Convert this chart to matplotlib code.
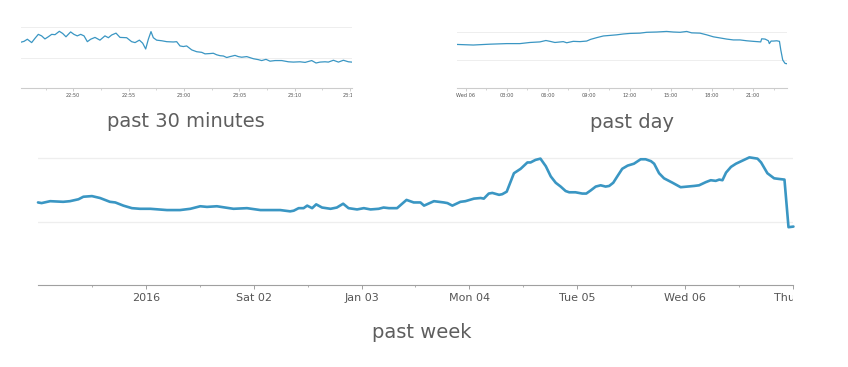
import matplotlib
matplotlib.use('Agg')
import matplotlib.pyplot as plt
from matplotlib.transforms import Bbox, TransformedBbox

# ---------------- data ----------------
# past 30 minutes: minutes after 22:45
min_t = [0.24, 0.55, 0.85, 1.24, 1.54, 1.84, 2.14, 2.44, 2.74, 3.05, 3.35, 3.74, 4.04, 4.34,
         4.76, 5.06, 5.36, 5.67, 5.97, 6.27, 6.57, 6.96, 7.41, 7.86, 8.17, 8.47, 8.86, 9.22,
         9.82, 10.27, 10.58, 10.97, 11.27, 11.54, 11.78, 12.02, 12.23, 12.53, 12.99, 13.44,
         14.04, 14.34, 14.64, 14.94, 15.24, 15.70, 16.15, 16.60, 16.90, 17.35, 17.65, 17.95,
         18.26, 18.56, 18.86, 19.16, 19.61, 19.91, 20.21, 20.67, 21.27, 21.72, 22.02, 22.41,
         22.77, 23.23, 23.83, 24.43, 24.88, 25.48, 25.94, 26.54, 26.93, 27.29, 27.74, 28.04,
         28.50, 28.95, 29.40, 29.85, 30.15]
min_v = [151, 154, 161, 150, 164, 177, 172, 162, 169, 177, 176, 187, 180, 169,
         185, 177, 172, 177, 172, 153, 161, 167, 158, 172, 166, 175, 181, 167,
         166, 153, 150, 158, 148, 129, 161, 186, 166, 158, 156, 153,
         152, 153, 139, 137, 139, 126, 120, 118, 113, 114, 115, 110,
         107, 106, 101, 104, 108, 104, 102, 104, 97, 94, 91, 95,
         89, 91, 91, 87, 86, 87, 85, 91, 83, 86, 87, 86,
         92, 86, 92, 87, 86]
min_ticks = [5, 10, 15, 20, 25, 30]
min_minor = [2.5, 7.5, 12.5, 17.5, 22.5, 27.5]
min_labels = ['22:50', '22:55', '23:00', '23:05', '23:10', '23:15']

# past day: hours after Wed 06 00:00
day_t = [-0.63, 0.54, 1.76, 2.98, 3.95, 4.68, 5.41, 5.85, 6.15, 6.51, 7.12, 7.37, 7.85,
         8.34, 8.83, 9.12, 9.56, 10.05, 10.54, 11.02, 11.51, 12.0, 12.73, 13.22, 13.95,
         14.68, 15.17, 15.66, 16.15, 16.51, 17.12, 17.61, 18.10, 18.59, 19.07, 19.56,
         20.05, 20.54, 21.02, 21.56, 21.63, 21.88, 22.12, 22.19, 22.32, 22.49, 22.73,
         22.93, 23.03, 23.17, 23.34, 23.46]
day_v = [155, 153, 156, 158, 158, 162, 164, 169, 166, 162, 165, 161, 166,
         165, 167, 173, 179, 185, 187, 189, 192, 194, 195, 198, 199,
         201, 199, 198, 201, 196, 195, 189, 182, 178, 174, 171,
         171, 168, 166, 164, 175, 174, 168, 158, 167, 167, 168,
         166, 135, 100, 88, 87]
day_ticks = [0, 3, 6, 9, 12, 15, 18, 21]
day_minor = [1.5, 4.5, 7.5, 10.5, 13.5, 16.5, 19.5, 22.5]
day_labels = ['Wed 06', '03:00', '06:00', '09:00', '12:00', '15:00', '18:00', '21:00']

# past week: hours after Dec 31 00:00
week_t = [0, 0.8, 2.7, 5.6, 7.1, 9.0, 10.1, 12.0, 13.8, 14.9, 16.0, 17.2, 19.0, 20.9,
          22.7, 25.0, 28.7, 31.6, 33.9, 36.1, 37.6, 39.8, 43.5, 46.5, 49.5, 50.9, 52.4,
          53.9, 56.1, 56.9, 58.0, 59.1, 59.9, 61.0, 61.9, 63.2, 65.1, 66.5, 67.9, 69.1,
          71.0, 72.5, 74.0, 75.8, 76.9, 78.1, 79.9, 82.0, 83.6, 85.1,
          85.9, 88.1, 89.2, 90.3, 91.1, 92.2, 94.0, 95.1, 97.0, 98.5, 99.2, 100.3, 101.1,
          102.6, 103.3, 104.3, 105.9, 107.4, 108.9, 109.6, 110.7, 111.8, 113.0, 114.1,
          115.2, 116.3, 117.4, 118.2, 119.6, 121.1, 122.0, 123.0, 124.1, 125.2, 126.3,
          127.1, 128.0, 128.9, 130.0, 131.2, 132.6, 134.1, 135.2, 136.4, 137.1, 138.2,
          139.3, 141.2, 143.0, 144.5, 146.0, 147.1, 148.6, 149.7, 150.8, 151.6, 152.3,
          153.1, 154.2, 155.3, 156.8, 158.3, 160.1, 160.9, 162.3, 163.8, 164.9, 166.1,
          167.0, 168.1]
week_v = [130, 129, 132, 131, 132, 135, 139, 140, 137, 134, 131, 130, 125, 121,
          120, 120, 118, 118, 120, 124, 123, 124, 120, 121, 118, 118, 118,
          118, 116, 117, 121, 121, 125, 121, 127, 122, 120, 122, 128, 121,
          119, 121, 119, 120, 122, 121, 121, 134, 130, 130,
          125, 132, 131, 130, 129, 125, 131, 132, 136, 137, 136, 144, 145,
          142, 143, 147, 176, 183, 193, 193, 197, 199, 187, 171,
          161, 155, 148, 146, 146, 144, 144, 149, 155, 157, 155,
          156, 161, 171, 183, 188, 191, 198, 198, 195, 191, 176,
          168, 161, 154, 155, 156, 157, 162, 165, 164, 166, 165,
          177, 186, 191, 196, 201, 199, 193, 176, 168, 167, 166,
          91, 92]
week_ticks = [24, 48, 72, 96, 120, 144, 168]
week_minor = [12, 36, 60, 84, 108, 132, 156]
week_labels = ['2016', 'Sat 02', 'Jan 03', 'Mon 04', 'Tue 05', 'Wed 06', 'Thu 07']

# ---------------- drawing ----------------
W, H = 848, 367
fig = plt.figure(figsize=(W / 100, H / 100), dpi=100)
fig.patch.set_facecolor('white')

LINE = '#3a96c3'
TITLE_C = '#5e5e5e'


def px_axes(l, r, b, t):
    return fig.add_axes([l / W, 1 - b / H, (r - l) / W, (b - t) / H])


def style(ax, xlim, ticks, minor, labels, fs, tlen, mlen, pad, axis_c, grid_lw):
    ax.set_xlim(*xlim)
    ax.set_ylim(0, 210)
    for s in ['top', 'right', 'left']:
        ax.spines[s].set_visible(False)
    ax.spines['bottom'].set_color(axis_c)
    ax.spines['bottom'].set_linewidth(0.8)
    ax.set_yticks([])
    for g in [100, 200]:
        ax.axhline(g, color='#eeeeee', lw=grid_lw, zorder=0)
    ax.set_xticks(ticks)
    ax.set_xticklabels(labels)
    ax.set_xticks(minor, minor=True)
    ax.tick_params(axis='x', which='major', length=tlen, width=0.7, color=axis_c,
                   labelsize=fs, labelcolor='#555555', pad=pad)
    ax.tick_params(axis='x', which='minor', length=mlen, width=0.6, color=axis_c)
    clip = TransformedBbox(Bbox([[-1, -3], [1.0, 3]]), ax.transAxes)
    for lab in ax.get_xticklabels():
        lab.set_clip_on(True)
        lab.set_clip_box(clip)


# past 30 minutes
ax1 = px_axes(20.7, 351.7, 88.3, 24.3)
ax1.plot(min_t, min_v, color=LINE, lw=0.9, solid_joinstyle='round')
style(ax1, (0.25, 30.15), min_ticks, min_minor, min_labels, 3.6, 2, 1.2, 1.5, '#cccccc', 0.7)

# past day
ax2 = px_axes(457.3, 786.7, 88.3, 28.9)
ax2.plot(day_t, day_v, color=LINE, lw=0.9, solid_joinstyle='round')
style(ax2, (-0.63, 23.46), day_ticks, day_minor, day_labels, 3.6, 2, 1.2, 1.5, '#cccccc', 0.7)

# past week
ax3 = px_axes(38, 793, 285, 151.65)
ax3.plot(week_t, week_v, color=LINE, lw=1.9, solid_joinstyle='round', solid_capstyle='round',
         clip_on=False)
style(ax3, (0, 168), week_ticks, week_minor, week_labels, 8, 3.2, 1.6, 2.5, '#a0a0a0', 0.9)

fig.text(185.5 / W, 1 - 121.7 / H, 'past 30 minutes', ha='center', va='center',
         fontsize=14, color=TITLE_C)
fig.text(631.5 / W, 1 - 122 / H, 'past day', ha='center', va='center',
         fontsize=14, color=TITLE_C)
fig.text(421.5 / W, 1 - 332 / H, 'past week', ha='center', va='center',
         fontsize=14, color=TITLE_C)

fig.savefig('out.png', dpi=100, facecolor='white')
